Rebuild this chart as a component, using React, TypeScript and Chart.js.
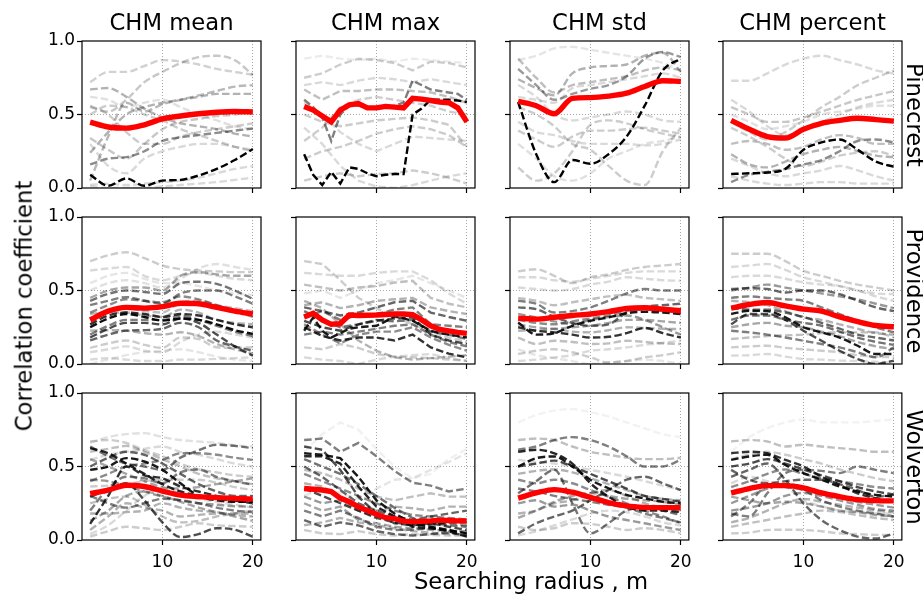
import React, { useEffect, useRef } from 'react';
import { Chart, registerables } from 'chart.js';

Chart.register(...registerables);

// ---------- categories / ticks ----------
const SITES = ['Pinecrest', 'Providence', 'Wolverton'];
const METRICS = ['CHM mean', 'CHM max', 'CHM std', 'CHM percent'];
const RADII = [2, 4, 6, 8, 10, 12, 14, 16, 18, 20];
const RADII_FINE = [2, 3, 4, 5, 6, 7, 8, 9, 10, 11, 12, 13, 14, 15, 16, 17, 18, 19, 20];
const X_TICKS = [10, 20];
const Y_TICKS = [0, 0.5, 1.0];
const Y_LABEL = 'Correlation coefficient';
const X_LABEL = 'Searching radius , m';

// ---------- Pinecrest ----------
const pineMeanRed = [0.448, 0.415, 0.407, 0.43, 0.47, 0.49, 0.505, 0.515, 0.52, 0.517];
const pineMeanLines = [
  [0.09, 0.015, 0.065, 0.015, 0.05, 0.055, 0.085, 0.13, 0.19, 0.265],
  [0.16, 0.2, 0.21, 0.25, 0.32, 0.345, 0.36, 0.375, 0.39, 0.405],
  [0.67, 0.68, 0.62, 0.54, 0.48, 0.44, 0.42, 0.40, 0.37, 0.35],
  [0.24, 0.38, 0.5, 0.55, 0.58, 0.6, 0.62, 0.64, 0.64, 0.64],
  [0.05, 0.35, 0.58, 0.52, 0.57, 0.6, 0.63, 0.66, 0.69, 0.70],
  [0.72, 0.79, 0.79, 0.83, 0.87, 0.86, 0.84, 0.81, 0.79, 0.77],
  [0.55, 0.52, 0.6, 0.72, 0.79, 0.85, 0.89, 0.9, 0.87, 0.77],
  [0.5, 0.56, 0.55, 0.5, 0.46, 0.4, 0.36, 0.32, 0.28, 0.25],
  [0.34, 0.26, 0.2, 0.3, 0.4, 0.45, 0.47, 0.49, 0.5, 0.52],
  [0.02, 0.03, 0.02, 0.03, 0.04, 0.05, 0.07, 0.1, 0.13, 0.15],
  [0.01, 0.0, 0.0, 0.0, 0.01, 0.02, 0.03, 0.04, 0.055, 0.07],
  [0.56, 0.5, 0.38, 0.3, 0.3, 0.35, 0.38, 0.4, 0.42, 0.44],
  [0.62, 0.6, 0.55, 0.58, 0.6, 0.55, 0.5, 0.46, 0.42, 0.4],
  [0.3, 0.15, 0.1, 0.2, 0.25, 0.28, 0.3, 0.3, 0.28, 0.26],
];
const pineMeanShade = [1.0, 0.45, 0.3, 0.3, 0.28, 0.18, 0.22, 0.2, 0.22, 0.15, 0.15, 0.2, 0.12, 0.15];

const pineMaxRed = [0.555, 0.53, 0.49, 0.45, 0.53, 0.565, 0.575, 0.545, 0.545, 0.555, 0.55, 0.545, 0.61, 0.605, 0.595, 0.585, 0.58, 0.545, 0.45];
const pineMaxLines = [
  [0.23, 0.09, 0.02, 0.11, 0.03, 0.14, 0.13, 0.1, 0.08, 0.09, 0.095, 0.095, 0.5, 0.54, 0.6, 0.6, 0.6, 0.595, 0.585],
  [0.6, 0.55, 0.48, 0.32, 0.5, 0.56, 0.56, 0.55, 0.55, 0.55, 0.56, 0.58, 0.73, 0.7, 0.67, 0.66, 0.65, 0.64, 0.6],
  [0.88, 0.9, 0.88, 0.87, 0.88, 0.86, 0.88, 0.87, 0.86, 0.85],
  [0.75, 0.78, 0.84, 0.88, 0.87, 0.85, 0.8, 0.86, 0.85, 0.82],
  [0.7, 0.72, 0.7, 0.73, 0.75, 0.74, 0.72, 0.74, 0.72, 0.7],
  [0.67, 0.6, 0.66, 0.66, 0.67, 0.67, 0.66, 0.65, 0.62, 0.58],
  [0.32, 0.41, 0.55, 0.6, 0.62, 0.6, 0.58, 0.56, 0.52, 0.5],
  [0.2, 0.25, 0.28, 0.32, 0.37, 0.4, 0.42, 0.4, 0.36, 0.28],
  [0.05, 0.08, 0.1, 0.08, 0.095, 0.1, 0.12, 0.1, 0.07, 0.03],
  [0.41, 0.3, 0.15, 0.05, 0.01, 0.0, 0.02, 0.05, 0.08, 0.1],
  [0.5, 0.45, 0.42, 0.44, 0.46, 0.47, 0.48, 0.46, 0.43, 0.28],
  [0.58, 0.5, 0.38, 0.3, 0.25, 0.3, 0.35, 0.34, 0.33, 0.32],
];
const pineMaxShade = [1.0, 0.5, 0.08, 0.2, 0.15, 0.25, 0.2, 0.2, 0.2, 0.15, 0.2, 0.15];

const pineStdRed = [0.59, 0.56, 0.505, 0.61, 0.615, 0.625, 0.645, 0.69, 0.73, 0.725];
const pineStdLines = [
  [0.585, 0.23, 0.04, 0.19, 0.165, 0.23, 0.35, 0.56, 0.8, 0.88],
  [0.81, 0.7, 0.6, 0.64, 0.675, 0.7, 0.76, 0.88, 0.925, 0.89],
  [0.74, 0.68, 0.63, 0.78, 0.82, 0.83, 0.84, 0.9, 0.92, 0.79],
  [0.87, 0.9, 0.95, 0.96, 0.94, 0.92, 0.9, 0.88, 0.85, 0.8],
  [0.39, 0.33, 0.28, 0.35, 0.39, 0.39, 0.4, 0.41, 0.39, 0.37],
  [0.14, 0.05, 0.1, 0.25, 0.43, 0.46, 0.44, 0.4, 0.37, 0.345],
  [0.55, 0.5, 0.42, 0.3, 0.26, 0.15, 0.05, 0.02, 0.25, 0.41],
  [0.45, 0.38, 0.36, 0.32, 0.3, 0.3, 0.3, 0.29, 0.3, 0.33],
  [0.88, 0.75, 0.65, 0.7, 0.72, 0.74, 0.76, 0.8, 0.82, 0.8],
  [0.3, 0.2, 0.08, 0.05, 0.1, 0.2, 0.25, 0.3, 0.32, 0.35],
  [0.62, 0.6, 0.58, 0.68, 0.7, 0.72, 0.74, 0.76, 0.78, 0.75],
  [0.7, 0.62, 0.5, 0.46, 0.48, 0.5, 0.52, 0.5, 0.46, 0.45],
];
const pineStdShade = [1.0, 0.4, 0.3, 0.1, 0.2, 0.2, 0.2, 0.15, 0.25, 0.12, 0.15, 0.15];

const pinePctRed = [0.46, 0.4, 0.35, 0.34, 0.4, 0.44, 0.46, 0.475, 0.465, 0.455];
const pinePctLines = [
  [0.095, 0.1, 0.105, 0.13, 0.26, 0.31, 0.33, 0.26, 0.18, 0.145],
  [0.04, 0.09, 0.11, 0.13, 0.16, 0.19, 0.25, 0.32, 0.33, 0.31],
  [0.73, 0.73, 0.78, 0.84, 0.88, 0.9, 0.87, 0.84, 0.8, 0.78],
  [0.45, 0.38, 0.33, 0.38, 0.46, 0.55, 0.62, 0.7, 0.75, 0.8],
  [0.55, 0.5, 0.45, 0.45, 0.48, 0.52, 0.56, 0.6, 0.63, 0.66],
  [0.23, 0.16, 0.14, 0.18, 0.23, 0.26, 0.28, 0.25, 0.22, 0.21],
  [0.41, 0.35, 0.28, 0.2, 0.15, 0.18, 0.22, 0.24, 0.25, 0.22],
  [0.6, 0.52, 0.42, 0.36, 0.4, 0.45, 0.5, 0.55, 0.58, 0.6],
  [0.08, 0.05, 0.03, 0.02, 0.03, 0.04, 0.04, 0.03, 0.03, 0.03],
  [0.3, 0.32, 0.3, 0.26, 0.28, 0.33, 0.36, 0.34, 0.3, 0.3],
  [0.5, 0.45, 0.4, 0.42, 0.45, 0.5, 0.52, 0.54, 0.56, 0.56],
  [0.2, 0.15, 0.1, 0.08, 0.1, 0.12, 0.15, 0.12, 0.08, 0.05],
];
const pinePctShade = [1.0, 0.45, 0.15, 0.2, 0.22, 0.3, 0.2, 0.15, 0.15, 0.25, 0.12, 0.15];

// ---------- Providence ----------
const provMeanRed = [0.3, 0.36, 0.385, 0.38, 0.39, 0.413, 0.41, 0.385, 0.36, 0.34];
const provMeanLines = [
  [0.25, 0.31, 0.34, 0.32, 0.295, 0.31, 0.3, 0.27, 0.23, 0.205],
  [0.27, 0.33, 0.35, 0.34, 0.32, 0.34, 0.33, 0.3, 0.27, 0.25],
  [0.18, 0.24, 0.28, 0.28, 0.27, 0.31, 0.28, 0.2, 0.12, 0.057],
  [0.16, 0.2, 0.227, 0.23, 0.24, 0.28, 0.25, 0.16, 0.12, 0.09],
  [0.43, 0.477, 0.5, 0.49, 0.477, 0.55, 0.56, 0.545, 0.5, 0.443],
  [0.4, 0.43, 0.455, 0.43, 0.41, 0.48, 0.5, 0.5, 0.46, 0.41],
  [0.2, 0.26, 0.3, 0.3, 0.3, 0.33, 0.3, 0.26, 0.22, 0.19],
  [0.35, 0.4, 0.44, 0.43, 0.42, 0.46, 0.44, 0.4, 0.36, 0.32],
  [0.45, 0.5, 0.52, 0.52, 0.5, 0.6, 0.625, 0.61, 0.6, 0.6],
  [0.34, 0.35, 0.35, 0.33, 0.32, 0.37, 0.35, 0.3, 0.28, 0.27],
  [0.227, 0.23, 0.227, 0.21, 0.2, 0.216, 0.19, 0.136, 0.1, 0.07],
  [0.11, 0.14, 0.16, 0.13, 0.11, 0.18, 0.17, 0.114, 0.11, 0.114],
  [0.7, 0.74, 0.76, 0.72, 0.67, 0.645, 0.636, 0.63, 0.625, 0.625],
  [0.636, 0.65, 0.66, 0.6, 0.57, 0.6, 0.62, 0.6, 0.58, 0.57],
  [0.03, 0.04, 0.03, 0.02, 0.02, 0.03, 0.03, 0.035, 0.04, 0.045],
  [0.5, 0.55, 0.57, 0.55, 0.52, 0.58, 0.65, 0.68, 0.66, 0.64],
  [0.08, 0.1, 0.12, 0.09, 0.08, 0.15, 0.2, 0.22, 0.2, 0.18],
  [0.55, 0.6, 0.62, 0.58, 0.55, 0.55, 0.53, 0.5, 0.48, 0.47],
  [0.3, 0.35, 0.38, 0.36, 0.35, 0.42, 0.43, 0.4, 0.38, 0.36],
  [0.0, 0.03, 0.06, 0.08, 0.09, 0.1, 0.08, 0.05, 0.03, 0.02],
];
const provMeanShade = [0.95, 0.8, 0.7, 0.6, 0.55, 0.5, 0.5, 0.45, 0.35, 0.3, 0.3, 0.2, 0.2, 0.15, 0.15, 0.12, 0.15, 0.1, 0.25, 0.1];

const provMaxRed = [0.32, 0.345, 0.3, 0.27, 0.275, 0.333, 0.33, 0.332, 0.333, 0.337, 0.34, 0.34, 0.335, 0.3, 0.26, 0.235, 0.225, 0.215, 0.208];
const provMaxLines = [
  [0.226, 0.317, 0.226, 0.18, 0.21, 0.24, 0.25, 0.255, 0.26, 0.29, 0.325, 0.31, 0.294, 0.26, 0.226, 0.21, 0.2, 0.19, 0.18],
  [0.25, 0.19, 0.16, 0.18, 0.18, 0.16, 0.2, 0.113, 0.07, 0.045],
  [0.294, 0.25, 0.226, 0.27, 0.294, 0.31, 0.317, 0.2, 0.16, 0.136],
  [0.385, 0.36, 0.33, 0.35, 0.385, 0.42, 0.43, 0.35, 0.32, 0.294],
  [0.317, 0.36, 0.3, 0.33, 0.34, 0.37, 0.385, 0.27, 0.26, 0.25],
  [0.36, 0.3, 0.25, 0.27, 0.3, 0.29, 0.3, 0.22, 0.2, 0.17],
  [0.4, 0.42, 0.38, 0.4, 0.43, 0.44, 0.45, 0.385, 0.36, 0.34],
  [0.7, 0.68, 0.57, 0.45, 0.38, 0.32, 0.27, 0.22, 0.18, 0.15],
  [0.62, 0.61, 0.6, 0.6, 0.62, 0.63, 0.63, 0.57, 0.48, 0.41],
  [0.54, 0.52, 0.5, 0.52, 0.53, 0.554, 0.566, 0.45, 0.41, 0.385],
  [0.113, 0.1, 0.136, 0.11, 0.068, 0.05, 0.045, 0.04, 0.03, 0.023],
  [0.045, 0.03, 0.02, 0.0, 0.03, 0.05, 0.06, 0.068, 0.04, 0.02],
  [0.43, 0.38, 0.27, 0.16, 0.09, 0.045, 0.03, 0.04, 0.05, 0.06],
  [0.48, 0.5, 0.45, 0.5, 0.55, 0.57, 0.6, 0.55, 0.5, 0.45],
  [0.2, 0.22, 0.2, 0.22, 0.24, 0.26, 0.27, 0.2, 0.15, 0.12],
  [0.27, 0.2, 0.14, 0.2, 0.22, 0.22, 0.25, 0.18, 0.13, 0.09],
];
const provMaxShade = [0.9, 0.8, 0.7, 0.6, 0.5, 0.55, 0.3, 0.2, 0.15, 0.25, 0.2, 0.15, 0.3, 0.1, 0.5, 0.45];

const provStdRed = [0.312, 0.305, 0.318, 0.33, 0.34, 0.356, 0.378, 0.383, 0.373, 0.362];
const provStdLines = [
  [0.283, 0.2, 0.21, 0.26, 0.294, 0.317, 0.345, 0.355, 0.35, 0.34],
  [0.25, 0.226, 0.215, 0.2, 0.18, 0.185, 0.21, 0.245, 0.21, 0.18],
  [0.385, 0.373, 0.32, 0.28, 0.26, 0.27, 0.35, 0.39, 0.4, 0.41],
  [0.43, 0.41, 0.35, 0.36, 0.385, 0.43, 0.48, 0.51, 0.5, 0.5],
  [0.34, 0.317, 0.29, 0.27, 0.3, 0.32, 0.33, 0.3, 0.25, 0.2],
  [0.3, 0.28, 0.27, 0.29, 0.31, 0.33, 0.36, 0.37, 0.36, 0.35],
  [0.63, 0.645, 0.6, 0.55, 0.59, 0.61, 0.64, 0.66, 0.67, 0.68],
  [0.59, 0.59, 0.57, 0.56, 0.58, 0.6, 0.62, 0.63, 0.63, 0.63],
  [0.52, 0.51, 0.5, 0.51, 0.54, 0.56, 0.59, 0.58, 0.57, 0.566],
  [0.18, 0.136, 0.158, 0.15, 0.136, 0.14, 0.158, 0.15, 0.14, 0.136],
  [0.068, 0.09, 0.1, 0.08, 0.045, 0.01, 0.02, 0.045, 0.06, 0.08],
  [0.02, 0.03, 0.045, 0.06, 0.09, 0.1, 0.113, 0.13, 0.145, 0.158],
  [0.226, 0.23, 0.238, 0.22, 0.215, 0.23, 0.25, 0.245, 0.24, 0.238],
  [0.45, 0.43, 0.4, 0.42, 0.44, 0.46, 0.47, 0.45, 0.44, 0.43],
  [0.27, 0.25, 0.24, 0.25, 0.26, 0.28, 0.3, 0.3, 0.29, 0.28],
  [0.1, 0.06, 0.04, 0.02, 0.0, 0.01, 0.02, 0.03, 0.02, 0.0],
];
const provStdShade = [0.9, 0.8, 0.6, 0.5, 0.4, 0.45, 0.2, 0.15, 0.15, 0.25, 0.2, 0.15, 0.3, 0.25, 0.35, 0.1];

const provPctRed = [0.38, 0.405, 0.418, 0.395, 0.373, 0.36, 0.32, 0.288, 0.262, 0.253];
const provPctLines = [
  [0.34, 0.362, 0.36, 0.317, 0.25, 0.215, 0.18, 0.124, 0.068, 0.068],
  [0.27, 0.34, 0.34, 0.3, 0.226, 0.158, 0.09, 0.034, 0.0, 0.023],
  [0.51, 0.515, 0.51, 0.486, 0.5, 0.5, 0.475, 0.43, 0.385, 0.36],
  [0.45, 0.46, 0.45, 0.44, 0.43, 0.385, 0.34, 0.294, 0.25, 0.215],
  [0.226, 0.215, 0.2, 0.18, 0.158, 0.136, 0.113, 0.08, 0.045, 0.113],
  [0.3, 0.33, 0.33, 0.3, 0.28, 0.26, 0.22, 0.18, 0.15, 0.13],
  [0.43, 0.42, 0.4, 0.36, 0.317, 0.3, 0.27, 0.24, 0.21, 0.2],
  [0.75, 0.75, 0.75, 0.7, 0.633, 0.6, 0.566, 0.54, 0.52, 0.5],
  [0.66, 0.67, 0.68, 0.64, 0.59, 0.56, 0.53, 0.5, 0.48, 0.475],
  [0.59, 0.6, 0.6, 0.58, 0.555, 0.54, 0.53, 0.5, 0.46, 0.43],
  [0.113, 0.12, 0.124, 0.11, 0.1, 0.09, 0.08, 0.06, 0.05, 0.045],
  [0.057, 0.06, 0.068, 0.05, 0.034, 0.03, 0.023, 0.02, 0.015, 0.01],
  [0.17, 0.18, 0.19, 0.195, 0.2, 0.21, 0.215, 0.215, 0.215, 0.18],
  [0.5, 0.52, 0.54, 0.52, 0.5, 0.48, 0.46, 0.44, 0.41, 0.38],
  [0.38, 0.37, 0.37, 0.35, 0.32, 0.28, 0.24, 0.2, 0.18, 0.16],
  [0.25, 0.27, 0.28, 0.26, 0.25, 0.22, 0.19, 0.15, 0.12, 0.1],
];
const provPctShade = [0.9, 0.7, 0.6, 0.5, 0.5, 0.55, 0.3, 0.2, 0.15, 0.15, 0.2, 0.15, 0.25, 0.4, 0.6, 0.35];

// ---------- Wolverton ----------
const wolvMeanRed = [0.315, 0.34, 0.372, 0.364, 0.333, 0.305, 0.295, 0.288, 0.283, 0.278];
const wolvMeanLines = [
  [0.477, 0.5, 0.557, 0.534, 0.477, 0.386, 0.3, 0.27, 0.26, 0.26],
  [0.625, 0.59, 0.52, 0.45, 0.38, 0.33, 0.3, 0.28, 0.27, 0.27],
  [0.11, 0.3, 0.5, 0.44, 0.42, 0.364, 0.33, 0.3, 0.27, 0.25],
  [0.295, 0.34, 0.386, 0.27, 0.12, 0.02, 0.04, 0.08, 0.07, 0.023],
  [0.636, 0.57, 0.52, 0.5, 0.477, 0.56, 0.61, 0.648, 0.64, 0.625],
  [0.4, 0.45, 0.5, 0.52, 0.545, 0.59, 0.59, 0.58, 0.56, 0.545],
  [0.2, 0.35, 0.43, 0.42, 0.386, 0.46, 0.48, 0.43, 0.4, 0.375],
  [0.41, 0.4, 0.37, 0.33, 0.295, 0.27, 0.25, 0.24, 0.23, 0.227],
  [0.068, 0.16, 0.25, 0.22, 0.2, 0.16, 0.17, 0.18, 0.18, 0.18],
  [0.67, 0.68, 0.66, 0.61, 0.57, 0.52, 0.48, 0.46, 0.44, 0.43],
  [0.66, 0.7, 0.72, 0.727, 0.7, 0.68, 0.67, 0.66, 0.645, 0.636],
  [0.023, 0.06, 0.09, 0.08, 0.068, 0.09, 0.114, 0.1, 0.095, 0.09],
  [0.545, 0.58, 0.6, 0.62, 0.636, 0.6, 0.58, 0.55, 0.52, 0.5],
  [0.18, 0.18, 0.19, 0.2, 0.25, 0.22, 0.2, 0.19, 0.17, 0.16],
  [0.25, 0.28, 0.295, 0.24, 0.16, 0.12, 0.13, 0.16, 0.18, 0.2],
  [0.364, 0.37, 0.38, 0.4, 0.41, 0.41, 0.41, 0.39, 0.36, 0.34],
  [0.55, 0.5, 0.45, 0.4, 0.36, 0.35, 0.36, 0.38, 0.4, 0.42],
  [0.13, 0.2, 0.3, 0.33, 0.3, 0.26, 0.22, 0.19, 0.16, 0.13],
  [0.5, 0.56, 0.6, 0.58, 0.52, 0.45, 0.38, 0.33, 0.3, 0.3],
  [0.04, 0.1, 0.2, 0.3, 0.35, 0.32, 0.28, 0.26, 0.24, 0.22],
  [0.6, 0.62, 0.64, 0.6, 0.55, 0.5, 0.45, 0.42, 0.4, 0.38],
  [0.3, 0.25, 0.22, 0.25, 0.28, 0.27, 0.25, 0.22, 0.2, 0.19],
];
const wolvMeanShade = [0.9, 0.85, 0.8, 0.7, 0.55, 0.45, 0.5, 0.4, 0.3, 0.2, 0.12, 0.2, 0.15, 0.3, 0.25, 0.2, 0.35, 0.35, 0.6, 0.15, 0.25, 0.5];

const wolvMaxRed = [0.35, 0.345, 0.34, 0.33, 0.285, 0.26, 0.225, 0.2, 0.175, 0.152, 0.145, 0.128, 0.125, 0.127, 0.13, 0.135, 0.133, 0.13, 0.13];
const wolvMaxLines = [
  [0.59, 0.58, 0.557, 0.43, 0.27, 0.18, 0.114, 0.09, 0.068, 0.045],
  [0.57, 0.57, 0.52, 0.364, 0.227, 0.16, 0.09, 0.08, 0.06, 0.023],
  [0.636, 0.614, 0.477, 0.295, 0.18, 0.114, 0.1, 0.114, 0.09, 0.068],
  [0.5, 0.43, 0.34, 0.25, 0.2, 0.16, 0.136, 0.16, 0.18, 0.2],
  [0.68, 0.69, 0.6, 0.66, 0.57, 0.47, 0.39, 0.37, 0.33, 0.35],
  [0.2, 0.16, 0.2, 0.15, 0.09, 0.068, 0.07, 0.08, 0.068, 0.045],
  [0.136, 0.09, 0.12, 0.1, 0.06, 0.04, 0.03, 0.04, 0.05, 0.03],
  [0.477, 0.455, 0.41, 0.35, 0.295, 0.27, 0.295, 0.318, 0.295, 0.295],
  [0.386, 0.364, 0.295, 0.227, 0.2, 0.227, 0.216, 0.2, 0.227, 0.227],
  [0.068, 0.045, 0.04, 0.06, 0.04, 0.03, 0.04, 0.035, 0.03, 0.03],
  [0.295, 0.25, 0.27, 0.2, 0.16, 0.136, 0.114, 0.1, 0.114, 0.1],
  [0.25, 0.2, 0.227, 0.136, 0.114, 0.09, 0.08, 0.07, 0.06, 0.06],
  [0.55, 0.5, 0.45, 0.38, 0.3, 0.22, 0.15, 0.12, 0.1, 0.09],
  [0.45, 0.4, 0.35, 0.3, 0.25, 0.2, 0.17, 0.16, 0.15, 0.14],
  [0.6, 0.72, 0.8, 0.75, 0.62, 0.5, 0.42, 0.45, 0.55, 0.62],
  [0.3, 0.35, 0.32, 0.28, 0.35, 0.41, 0.42, 0.477, 0.53, 0.59],
  [0.35, 0.3, 0.25, 0.2, 0.15, 0.12, 0.1, 0.11, 0.12, 0.12],
  [0.1, 0.12, 0.15, 0.12, 0.1, 0.08, 0.06, 0.05, 0.04, 0.04],
];
const wolvMaxShade = [0.9, 0.85, 0.7, 0.6, 0.5, 0.5, 0.6, 0.25, 0.3, 0.2, 0.4, 0.35, 0.55, 0.45, 0.06, 0.1, 0.7, 0.3];

const wolvStdRed = [0.285, 0.32, 0.343, 0.325, 0.29, 0.255, 0.232, 0.222, 0.22, 0.22];
const wolvStdLines = [
  [0.5, 0.557, 0.568, 0.5, 0.41, 0.352, 0.307, 0.284, 0.26, 0.25],
  [0.6, 0.614, 0.59, 0.52, 0.386, 0.295, 0.227, 0.2, 0.2, 0.19],
  [0.318, 0.4, 0.477, 0.25, 0.045, 0.114, 0.2, 0.22, 0.2, 0.17],
  [0.045, 0.114, 0.16, 0.2, 0.27, 0.34, 0.41, 0.43, 0.386, 0.34],
  [0.614, 0.636, 0.68, 0.7, 0.68, 0.636, 0.57, 0.5, 0.5, 0.545],
  [0.68, 0.69, 0.68, 0.636, 0.6, 0.58, 0.56, 0.55, 0.55, 0.56],
  [0.41, 0.386, 0.41, 0.386, 0.34, 0.295, 0.25, 0.2, 0.16, 0.114],
  [0.25, 0.27, 0.227, 0.24, 0.2, 0.16, 0.136, 0.114, 0.09, 0.068],
  [0.18, 0.2, 0.25, 0.27, 0.318, 0.34, 0.3, 0.25, 0.22, 0.2],
  [0.09, 0.068, 0.08, 0.114, 0.11, 0.09, 0.068, 0.08, 0.068, 0.045],
  [0.545, 0.53, 0.52, 0.5, 0.477, 0.455, 0.43, 0.4, 0.37, 0.34],
  [0.8, 0.85, 0.88, 0.89, 0.87, 0.84, 0.8, 0.76, 0.72, 0.7],
  [0.5, 0.52, 0.54, 0.5, 0.45, 0.4, 0.35, 0.3, 0.28, 0.26],
  [0.35, 0.33, 0.3, 0.28, 0.26, 0.24, 0.22, 0.18, 0.15, 0.12],
  [0.15, 0.2, 0.26, 0.3, 0.32, 0.3, 0.28, 0.27, 0.26, 0.24],
  [0.45, 0.47, 0.48, 0.46, 0.42, 0.38, 0.34, 0.3, 0.28, 0.27],
  [0.03, 0.06, 0.1, 0.14, 0.18, 0.2, 0.19, 0.16, 0.12, 0.1],
];
const wolvStdShade = [0.9, 0.85, 0.55, 0.6, 0.5, 0.25, 0.45, 0.4, 0.3, 0.2, 0.15, 0.05, 0.7, 0.5, 0.35, 0.3, 0.15];

const wolvPctRed = [0.32, 0.35, 0.37, 0.37, 0.355, 0.32, 0.295, 0.275, 0.268, 0.266];
const wolvPctLines = [
  [0.545, 0.568, 0.58, 0.51, 0.455, 0.41, 0.364, 0.33, 0.307, 0.295],
  [0.59, 0.6, 0.59, 0.545, 0.5, 0.43, 0.375, 0.318, 0.284, 0.26],
  [0.43, 0.477, 0.52, 0.41, 0.25, 0.136, 0.068, 0.023, 0.01, 0.045],
  [0.477, 0.41, 0.386, 0.4, 0.41, 0.41, 0.38, 0.34, 0.295, 0.307],
  [0.67, 0.68, 0.67, 0.636, 0.648, 0.636, 0.625, 0.614, 0.6, 0.6],
  [0.18, 0.16, 0.318, 0.455, 0.477, 0.47, 0.455, 0.5, 0.477, 0.455],
  [0.16, 0.25, 0.364, 0.36, 0.34, 0.27, 0.227, 0.2, 0.18, 0.16],
  [0.295, 0.27, 0.25, 0.26, 0.25, 0.227, 0.2, 0.19, 0.17, 0.16],
  [0.09, 0.114, 0.136, 0.16, 0.18, 0.2, 0.19, 0.17, 0.15, 0.136],
  [0.045, 0.05, 0.068, 0.07, 0.068, 0.06, 0.045, 0.04, 0.035, 0.034],
  [0.386, 0.43, 0.4, 0.364, 0.27, 0.23, 0.2, 0.19, 0.18, 0.18],
  [0.6, 0.7, 0.76, 0.8, 0.82, 0.8, 0.8, 0.8, 0.81, 0.82],
  [0.5, 0.52, 0.55, 0.52, 0.48, 0.44, 0.4, 0.36, 0.33, 0.31],
  [0.25, 0.3, 0.35, 0.38, 0.36, 0.32, 0.29, 0.26, 0.24, 0.22],
  [0.36, 0.4, 0.45, 0.48, 0.45, 0.42, 0.4, 0.38, 0.36, 0.35],
  [0.12, 0.15, 0.2, 0.25, 0.28, 0.26, 0.24, 0.22, 0.2, 0.19],
  [0.55, 0.58, 0.6, 0.58, 0.55, 0.52, 0.48, 0.45, 0.42, 0.4],
  [0.2, 0.22, 0.25, 0.3, 0.32, 0.3, 0.27, 0.24, 0.21, 0.2],
];
const wolvPctShade = [0.9, 0.8, 0.6, 0.6, 0.25, 0.5, 0.5, 0.35, 0.25, 0.2, 0.15, 0.05, 0.7, 0.4, 0.45, 0.3, 0.2, 0.4];

type PanelData = { red: number[]; lines: number[][]; shade: number[]; straight: boolean };
const PANELS: PanelData[][] = [
  [
    { red: pineMeanRed, lines: pineMeanLines, shade: pineMeanShade, straight: false },
    { red: pineMaxRed, lines: pineMaxLines, shade: pineMaxShade, straight: true },
    { red: pineStdRed, lines: pineStdLines, shade: pineStdShade, straight: false },
    { red: pinePctRed, lines: pinePctLines, shade: pinePctShade, straight: false },
  ],
  [
    { red: provMeanRed, lines: provMeanLines, shade: provMeanShade, straight: false },
    { red: provMaxRed, lines: provMaxLines, shade: provMaxShade, straight: true },
    { red: provStdRed, lines: provStdLines, shade: provStdShade, straight: false },
    { red: provPctRed, lines: provPctLines, shade: provPctShade, straight: false },
  ],
  [
    { red: wolvMeanRed, lines: wolvMeanLines, shade: wolvMeanShade, straight: false },
    { red: wolvMaxRed, lines: wolvMaxLines, shade: wolvMaxShade, straight: true },
    { red: wolvStdRed, lines: wolvStdLines, shade: wolvStdShade, straight: false },
    { red: wolvPctRed, lines: wolvPctLines, shade: wolvPctShade, straight: false },
  ],
];

// ---------- layout ----------
const COL_LEFT = [82, 296, 510, 723];
const ROW_TOP = [41, 217, 393];
const PANEL_W = 179;
const PANEL_H = 147;
const AX_W = 50;
const AX_H = 34;
const PAD_T = 14;
const PAD_R = 10;
const FONT = "'DejaVu Sans', sans-serif";
const TICK_SIZE = 17;
const BIG_SIZE = 22.7;

const framePlugin = {
  id: 'frame',
  afterDatasetsDraw(chart: any) {
    const { ctx, chartArea: a } = chart;
    ctx.save();
    ctx.strokeStyle = '#000';
    ctx.lineWidth = 1.2;
    ctx.strokeRect(a.left, a.top, a.right - a.left, a.bottom - a.top);
    ctx.restore();
  },
};

function toPoints(ys: number[]) {
  const xs = ys.length === RADII_FINE.length ? RADII_FINE : RADII;
  return ys.map((y, i) => ({ x: xs[i], y }));
}

function Panel({ r, c }: { r: number; c: number }) {
  const ref = useRef<HTMLCanvasElement>(null);
  useEffect(() => {
    const p = PANELS[r][c];
    const lineShape = p.straight
      ? { tension: 0 }
      : { cubicInterpolationMode: 'monotone' as const };
    const datasets: any[] = [
      {
        data: toPoints(p.red),
        borderColor: '#ff0000',
        borderWidth: 5.4,
        pointRadius: 0,
        fill: false,
        clip: 0,
        ...lineShape,
      },
    ];
    const idx = p.lines.map((_, i) => i).sort((a, b) => p.shade[b] - p.shade[a]);
    for (const i of idx) {
      datasets.push({
        data: toPoints(p.lines[i]),
        borderColor: `rgba(0,0,0,${p.shade[i]})`,
        borderWidth: 2.4,
        borderDash: [7.5, 3.3],
        pointRadius: 0,
        fill: false,
        clip: 0,
        ...lineShape,
      });
    }
    const chart = new Chart(ref.current as HTMLCanvasElement, {
      type: 'line',
      data: { datasets },
      plugins: [framePlugin],
      options: {
        animation: false,
        responsive: false,
        maintainAspectRatio: false,
        events: [],
        layout: { padding: { top: PAD_T, right: PAD_R, left: 0, bottom: 0 } },
        plugins: { legend: { display: false }, tooltip: { enabled: false }, title: { display: false } },
        scales: {
          x: {
            type: 'linear',
            min: 1.1,
            max: 20.9,
            afterBuildTicks: (s: any) => {
              s.ticks = X_TICKS.map((v) => ({ value: v }));
            },
            afterFit: (s: any) => {
              s.height = AX_H;
            },
            ticks: {
              display: r === 2,
              autoSkip: false,
              maxRotation: 0,
              padding: 7,
              color: '#000',
              font: { family: FONT, size: TICK_SIZE },
              callback: (v: any) => String(v),
            },
            grid: {
              color: '#a8a8a8',
              lineWidth: 1,
              tickLength: 5,
              tickColor: '#000',
              tickWidth: 1.2,
            },
            border: { display: false, dash: [1, 2] },
          },
          y: {
            type: 'linear',
            min: 0,
            max: 1,
            afterBuildTicks: (s: any) => {
              s.ticks = Y_TICKS.map((v) => ({ value: v }));
            },
            afterFit: (s: any) => {
              s.width = AX_W;
            },
            ticks: {
              display: c === 0,
              autoSkip: false,
              padding: 2,
              color: '#000',
              font: { family: FONT, size: TICK_SIZE },
              callback: (v: any) => Number(v).toFixed(1),
            },
            grid: {
              color: (ctx: any) => (ctx.tick && ctx.tick.value === 0.5 ? '#a8a8a8' : 'rgba(0,0,0,0)'),
              lineWidth: 1,
              tickLength: 5,
              tickColor: '#000',
              tickWidth: 1.2,
            },
            border: { display: false, dash: [1, 2] },
          },
        },
      } as any,
    });
    return () => chart.destroy();
  }, [r, c]);
  const w = AX_W + PANEL_W + PAD_R;
  const h = PAD_T + PANEL_H + AX_H;
  return (
    <canvas
      ref={ref}
      width={w}
      height={h}
      style={{ position: 'absolute', left: COL_LEFT[c] - AX_W, top: ROW_TOP[r] - PAD_T, width: w, height: h }}
    />
  );
}

const bigText: React.CSSProperties = {
  position: 'absolute',
  fontFamily: FONT,
  fontSize: BIG_SIZE,
  lineHeight: `${BIG_SIZE}px`,
  color: '#000',
  whiteSpace: 'nowrap',
};

export default function App() {
  const panels: JSX.Element[] = [];
  for (let r = 0; r < 3; r++) for (let c = 0; c < 4; c++) panels.push(<Panel key={`${r}-${c}`} r={r} c={c} />);
  return (
    <div style={{ position: 'absolute', left: 0, top: 0, width: 923, height: 594, background: '#fff', overflow: 'hidden' }}>
      {panels}
      {METRICS.map((m, c) => (
        <div key={m} style={{ ...bigText, left: COL_LEFT[c], top: 11, width: PANEL_W, textAlign: 'center' }}>
          {m}
        </div>
      ))}
      {SITES.map((s, r) => (
        <div
          key={s}
          style={{
            ...bigText,
            left: 914.5,
            top: ROW_TOP[r] + PANEL_H / 2,
            transform: 'translate(-50%, -50%) rotate(90deg)',
          }}
        >
          {s}
        </div>
      ))}
      <div style={{ ...bigText, left: 24, top: 306, transform: 'translate(-50%, -50%) rotate(-90deg)' }}>{Y_LABEL}</div>
      <div style={{ ...bigText, left: 531, top: 570, transform: 'translateX(-50%)' }}>{X_LABEL}</div>
    </div>
  );
}
